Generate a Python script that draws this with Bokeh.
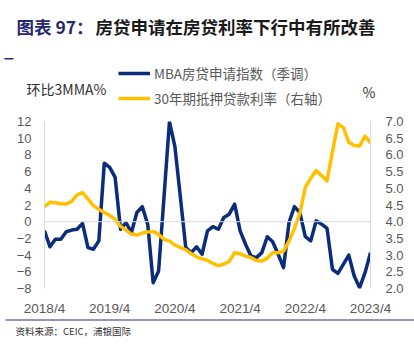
from bokeh.plotting import figure
from bokeh.layouts import column
from bokeh.models import (Range1d, LinearAxis, FixedTicker, Span, Label, Legend, LegendItem,
                          BoxAnnotation, NumeralTickFormatter)
from bokeh.embed import file_html
from bokeh.resources import INLINE

# ---------------- data ----------------
months = list(range(61))  # 2018/4 ... 2023/4, monthly
tick_positions = [0, 12, 24, 36, 48, 60]
tick_labels = ["2018/4", "2019/4", "2020/4", "2021/4", "2022/4", "2023/4"]

mba_index = [-1.1, -3.0, -2.1, -2.1, -1.2, -1.0, -0.9, -0.2, -3.1, -3.3,
             -2.3, 7.0, 6.5, 5.3, -0.9, -0.1, -1.3, 1.1, 1.8, -0.3,
             -7.3, -5.9, 3.0, 12.0, 9.0, 3.0, -3.1, -3.7, -3.0, -3.9,
             -1.1, -0.6, -0.9, 0.5, 0.9, 2.1, -1.1, -2.7, -4.1, -4.3,
             -3.7, -1.8, -2.4, -3.9, -5.5, -0.1, 1.8, 1.1, -1.8, -2.3,
             0.1, -0.3, -0.8, -5.7, -6.2, -5.1, -4.0, -6.5, -7.9, -6.1,
             -3.7]

mortgage_rate = [4.45, 4.58, 4.57, 4.54, 4.53, 4.61, 4.80, 4.87, 4.68, 4.48,
                 4.37, 4.27, 4.19, 4.07, 3.86, 3.75, 3.63, 3.60, 3.66, 3.69,
                 3.71, 3.62, 3.47, 3.42, 3.30, 3.23, 3.16, 3.04, 2.95, 2.89,
                 2.84, 2.75, 2.68, 2.73, 2.81, 3.07, 3.04, 2.97, 2.93, 2.84,
                 2.82, 2.91, 3.07, 3.07, 3.12, 3.42, 3.80, 4.25, 5.03, 5.30,
                 5.53, 5.38, 5.22, 6.10, 6.93, 6.82, 6.38, 6.28, 6.27, 6.56,
                 6.36]

left_ticks = [-8, -6, -4, -2, 0, 2, 4, 6, 8, 10, 12]
right_ticks = [2.0, 2.5, 3.0, 3.5, 4.0, 4.5, 5.0, 5.5, 6.0, 6.5, 7.0]

series_names = ["MBA房贷申请指数（季调）", "30年期抵押贷款利率（右轴）"]
title_prefix = "图表 97："
title_text = "房贷申请在房贷利率下行中有所改善"
left_unit = "环比3MMA%"
right_unit = "%"
source_text = "资料来源：CEIC，浦银国际"

# ---------------- layout constants ----------------
W = 414
HEAD_H, MAIN_H, FOOT_H = 113, 205, 27
BLUE = "#0b2c7a"
GOLD = "#ffc000"
GRID = "#d9d9d9"
TICK = "#595959"
NAVY = "#262673"
CJK = "Noto Sans CJK SC"
NUM = "Liberation Sans"
LW = 3.5


def no_align(f):
    try:
        f.frame_align = False
    except Exception:
        pass


def blank_fig(h):
    f = figure(width=W, height=h, output_backend="svg", toolbar_location=None,
               title=None, x_range=Range1d(0, W), y_range=Range1d(0, h),
               min_border=0, min_border_left=0, min_border_right=0,
               min_border_top=0, min_border_bottom=0,
               x_axis_location=None, y_axis_location=None)
    f.outline_line_color = None
    f.xgrid.visible = False
    f.ygrid.visible = False
    f.background_fill_color = "white"
    f.border_fill_color = "white"
    no_align(f)
    return f


def add_label(f, h, X, Y, text, size, color, font=CJK, style="normal"):
    f.add_layout(Label(x=X, y=h - Y, x_units="screen", y_units="screen", text=text,
                       text_font=font, text_font_size=size, text_color=color,
                       text_font_style=style, text_baseline="middle", text_align="left"))


def add_bar(f, h, X0, X1, Y0, Y1, color):
    f.add_layout(BoxAnnotation(left=X0, right=X1, top=h - Y0, bottom=h - Y1,
                               left_units="screen", right_units="screen",
                               top_units="screen", bottom_units="screen",
                               fill_color=color, fill_alpha=1, line_color=None))


# ---------------- header: title, units, legend ----------------
head = blank_fig(HEAD_H)
add_label(head, HEAD_H, 16, 26, title_prefix, "17.5px", NAVY, style="bold")
add_label(head, HEAD_H, 95, 26, title_text, "17.5px", "#1a1a1a", style="bold")
add_bar(head, HEAD_H, 4, 13, 57.5, 59, NAVY)
add_label(head, HEAD_H, 26, 88, left_unit, "14px", "#333333")
add_label(head, HEAD_H, 362, 91, right_unit, "14px", "#333333")

lb = head.line(months, mba_index, line_color=BLUE, line_width=LW, visible=False)
lg = head.line(months, mortgage_rate, line_color=GOLD, line_width=LW, visible=False)
legend = Legend(items=[LegendItem(label=series_names[0], renderers=[lb]),
                       LegendItem(label=series_names[1], renderers=[lg])],
                location=(118, HEAD_H - 108), orientation="vertical",
                glyph_width=32, glyph_height=16, label_height=16, label_standoff=4,
                spacing=5, padding=0, margin=0,
                border_line_color=None, background_fill_alpha=0,
                inactive_fill_alpha=0,
                label_text_font=CJK, label_text_font_size="13.5px",
                label_text_color=TICK)
head.add_layout(legend, "center")

# ---------------- main chart ----------------
FL, FR = 44, 370
p = figure(width=W, height=MAIN_H, output_backend="svg", toolbar_location=None,
           title=None, x_range=Range1d(0, 60), y_range=Range1d(-8, 12),
           min_border_left=FL, min_border_right=W - FR,
           min_border_top=8, min_border_bottom=30,
           x_axis_location=None, y_axis_location=None)
p.outline_line_color = None
p.background_fill_color = "white"
p.border_fill_color = "white"
p.xgrid.visible = False
p.ygrid.visible = False
p.extra_y_ranges = {"rate": Range1d(2.0, 7.0)}
no_align(p)


def style_axis(ax, standoff, size="13px"):
    ax.major_tick_line_color = None
    ax.minor_tick_line_color = None
    ax.major_tick_out = 0
    ax.major_tick_in = 0
    ax.minor_tick_out = 0
    ax.minor_tick_in = 0
    ax.major_label_standoff = standoff
    ax.major_label_text_font = NUM
    ax.major_label_text_font_size = size
    ax.major_label_text_color = TICK


yl = LinearAxis(ticker=FixedTicker(ticks=left_ticks))
yl.axis_line_color = GRID
style_axis(yl, 13)
p.add_layout(yl, "left")

yr = LinearAxis(y_range_name="rate", ticker=FixedTicker(ticks=right_ticks),
                formatter=NumeralTickFormatter(format="0.0"))
yr.axis_line_color = GRID
style_axis(yr, 15)
p.add_layout(yr, "right")

xb = LinearAxis(ticker=FixedTicker(ticks=tick_positions),
                major_label_overrides={t: l for t, l in zip(tick_positions, tick_labels)})
xb.axis_line_color = None
style_axis(xb, 12, "13.5px")
p.add_layout(xb, "below")

p.add_layout(Span(location=0, dimension="width", line_color=GRID, line_width=1))

p.line(months, mba_index, line_color=BLUE, line_width=LW, line_join="round")
p.line(months, mortgage_rate, y_range_name="rate", line_color=GOLD,
       line_width=LW, line_join="round")

# ---------------- footer: rule and source ----------------
foot = blank_fig(FOOT_H)
add_bar(foot, FOOT_H, 5, 414, 0.8, 2.2, "#7070a8")
add_label(foot, FOOT_H, 15, 12, source_text, "9.5px", "#333333")

layout = column(head, p, foot, spacing=0)
open("out.html", "w").write(file_html(layout, INLINE))
